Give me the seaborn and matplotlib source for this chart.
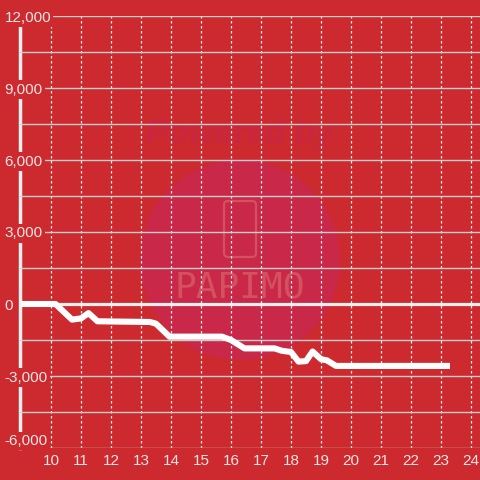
import matplotlib
matplotlib.use("Agg")
import matplotlib.pyplot as plt
import matplotlib.ticker as ticker
from matplotlib.patches import Circle, FancyBboxPatch
import seaborn as sns
import pandas as pd

# hour of day vs cumulative value
hours = [9.0, 10.15, 10.7, 11.0, 11.25, 11.55, 13.3, 13.5, 13.95, 15.7, 16.0,
         16.45, 17.45, 17.7, 18.0, 18.25, 18.5, 18.72, 19.0, 19.2, 19.5, 23.3]
values = [0, 0, -650, -600, -380, -720, -750, -820, -1360, -1360, -1500,
          -1850, -1850, -1950, -2000, -2400, -2380, -1980, -2300, -2350, -2580, -2580]
x_ticks = list(range(10, 25))
y_ticks = [-6000, -3000, 0, 3000, 6000, 9000, 12000]

bg = '#cc2a2f'
txt = '#f3e4e4'

sns.set_style('white', {'axes.facecolor': 'none', 'figure.facecolor': bg})
plt.rcParams['font.family'] = ['Liberation Sans', 'DejaVu Sans']
plt.rcParams['axes.unicode_minus'] = False

fig = plt.figure(figsize=(4.8, 4.8), dpi=100)
ax = fig.add_axes([20 / 480, 32 / 480, 460 / 480, 432 / 480])
ax.set_zorder(2)

# faint watermark behind the grid
fig.patches.append(Circle((2.4, 2.2), 1.0, transform=fig.dpi_scale_trans,
                          facecolor='#c92848', edgecolor='none', zorder=0))
fig.patches.append(FancyBboxPatch((2.25, 4.8 - 2.56), 0.30, 0.54,
                                  boxstyle='round,pad=0.01,rounding_size=0.04',
                                  transform=fig.dpi_scale_trans, facecolor='none',
                                  edgecolor='#d4515f', lw=1.6, zorder=0))
fig.text(240 / 480, 1 - 135 / 480, 'Powered by', ha='center', va='center',
         fontsize=24, fontweight='bold', style='italic', color='#c8273f', zorder=0)
fig.text(240 / 480, 1 - 288 / 480, 'PAPIMO', ha='center', va='center',
         fontsize=26, color='#d4515f', zorder=0, family='DejaVu Sans Mono')

df = pd.DataFrame({'hour': hours, 'value': values})
sns.lineplot(data=df, x='hour', y='value', ax=ax, color='white', lw=4.4,
             solid_joinstyle='round', solid_capstyle='butt', zorder=4)
ax.axhline(0, color='#f2eeee', lw=2.3, zorder=3)

ax.set_xlim(8.967, 24.3)
ax.set_ylim(-6000, 12000)
ax.xaxis.set_major_locator(ticker.FixedLocator(x_ticks))
ax.yaxis.set_major_locator(ticker.FixedLocator(y_ticks))
ax.yaxis.set_minor_locator(ticker.MultipleLocator(1500))
ax.yaxis.set_major_formatter(ticker.StrMethodFormatter('{x:,.0f}'))

ax.grid(axis='y', which='both', color='#cdcdcd', lw=1.0)
ax.grid(axis='x', which='major', color='#eeeeee', lw=0.9, ls=(0, (2, 2)))
ax.set_axisbelow(True)

for s in ['top', 'right', 'bottom']:
    ax.spines[s].set_visible(False)
ax.spines['left'].set_color('#f2eeee')
ax.spines['left'].set_linewidth(2.5)
ax.spines['left'].set_zorder(1)
ax.yaxis.set_zorder(1.5)

ax.tick_params(axis='both', which='both', length=0, labelsize=11, labelcolor=txt)
ax.tick_params(axis='y', pad=11)
ax.tick_params(axis='x', pad=4)
for lab in ax.get_yticklabels():
    lab.set_horizontalalignment('left')
    lab.set_bbox(dict(facecolor=bg, edgecolor='none', pad=1.5))
ax.get_yticklabels()[0].set_verticalalignment('bottom')
ax.set_xlabel('')
ax.set_ylabel('')

fig.savefig('out.png', dpi=100, facecolor=bg)
